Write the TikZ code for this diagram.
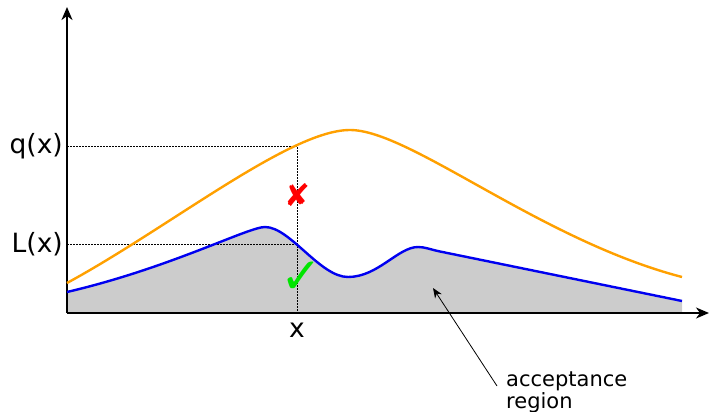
\documentclass[tikz,border=0pt]{standalone}
\usepackage{fontspec}
\setmainfont{DejaVu Sans}
\usetikzlibrary{arrows.meta,positioning}
\definecolor{qorange}{RGB}{255,160,0}
\definecolor{lblue}{RGB}{0,0,240}
\definecolor{accgray}{RGB}{204,204,204}
\tikzset{axis/.style={line width=1.6pt,-{Stealth[length=13pt,width=11pt,inset=4pt]}},
  guide/.style={line width=0.7pt,dash pattern=on 2pt off 1pt},
  lab/.style={font=\fontsize{26.5}{26.5}\selectfont,inner sep=0pt},
  curve/.style={line width=2.4pt,line join=round}}

\begin{document}
\begin{tikzpicture}[x=1pt,y=-1pt]
\useasboundingbox (0,0) rectangle (709,412);
% acceptance region
\fill[accgray] (67,313) -- (67,292) .. controls (170,268) and (248,227) .. (265,227)
  .. controls (290,227) and (320,277) .. (348,277)
  .. controls (378,277) and (398,247) .. (418,247)
  .. controls (425,247) and (430,249.4) .. (440,251.5) -- (682,301) -- (682,313) -- cycle;
% guides
\coordinate (qx) at (297,146);
\coordinate (lx) at (297,244);
\coordinate (xx) at (297,313);
\draw[guide] (67,146) -- (qx) -- (xx);
\draw[guide] (67,244) -- (lx);
% axes
\coordinate (o) at (67,313);
\draw[axis] (o) -- (67,7);
\draw[axis] (o) -- (709,313);
% curves
\draw[curve,qorange] (67,283) .. controls (170,227) and (290,130) .. (350,130)
  .. controls (410,130) and (540,240) .. (682,277);
\draw[curve,lblue] (67,292) .. controls (170,268) and (248,227) .. (265,227)
  .. controls (290,227) and (320,277) .. (348,277)
  .. controls (378,277) and (398,247) .. (418,247)
  .. controls (425,247) and (430,249.4) .. (440,251.5) -- (682,301);
% labels
\node[lab,anchor=east] (qlab) at (63,146) {q(x)};
\node[lab,anchor=east] (llab) at (63,244) {L(x)};
\node[lab] (xlab) at (297,330) {x};
\node[text=red,font=\fontsize{31}{31}\selectfont,inner sep=0pt] (rej) at (297,195) {✘};
\node[text=green!90!black,font=\fontsize{50}{50}\selectfont,inner sep=0pt] (acc) at (301,278) {✓};
\node[font=\fontsize{21}{18}\selectfont,align=left,anchor=base west,inner sep=0pt] (acclab) at (506,408) {acceptance\\region};
\coordinate (acctip) at (433,288);
\draw[line width=0.8pt,-{Stealth[length=10pt,width=8pt]}] ([xshift=-9pt,yshift=22pt]acclab.base west) -- (acctip);
\end{tikzpicture}
\end{document}
